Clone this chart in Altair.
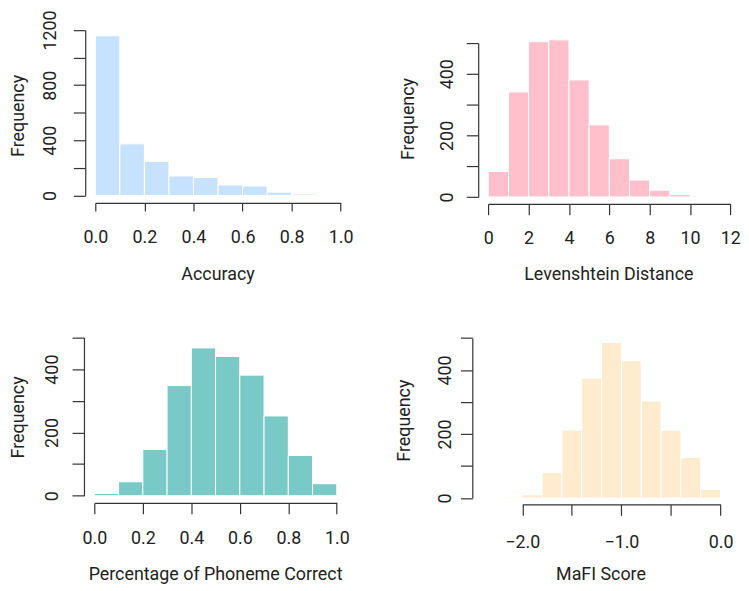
import altair as alt
import pandas as pd

# ---- data ----
acc_edges = [0.0, 0.1, 0.2, 0.3, 0.4, 0.5, 0.6, 0.7, 0.8, 0.9, 1.0]
acc_counts = [1158, 374, 247, 141, 130, 76, 68, 24, 10, 1]

lev_edges = [0, 1, 2, 3, 4, 5, 6, 7, 8, 9, 10, 11, 12]
lev_counts = [83, 341, 504, 510, 380, 234, 124, 55, 22, 8, 2, 1]

pho_edges = [0.0, 0.1, 0.2, 0.3, 0.4, 0.5, 0.6, 0.7, 0.8, 0.9, 1.0]
pho_counts = [7, 44, 146, 348, 467, 440, 381, 252, 127, 38]

mafi_edges = [-2.4, -2.2, -2.0, -1.8, -1.6, -1.4, -1.2, -1.0, -0.8, -0.6, -0.4, -0.2, 0.0]
mafi_counts = [1, 3, 10, 79, 212, 374, 486, 429, 303, 212, 127, 27]

acc_xticks = [0.0, 0.2, 0.4, 0.6, 0.8, 1.0]
lev_xticks = [0, 2, 4, 6, 8, 10, 12]
pho_xticks = [0.0, 0.2, 0.4, 0.6, 0.8, 1.0]
mafi_xticks = [-2.0, -1.5, -1.0, -0.5, 0.0]
acc_yticks = [0, 200, 400, 600, 800, 1000, 1200]
other_yticks = [0, 100, 200, 300, 400, 500]

# ---- layout helpers (pixel placement of each panel inside one view) ----
W, H = 739, 576
TEXT = "#222222"
LINE = "#333333"


def fx(x):
    return 0.5 + (x - 1.7) * 0.988


def fy(y):
    return 0.5 + (y - 1.0) * 0.981


def frame(edges, counts):
    return pd.DataFrame({
        "start": edges[:-1],
        "end": edges[1:],
        "count": counts,
        "base": [0] * len(counts),
    })


def panel(df, color, xtitle, xdom, xpix, xvals, xfmt, xlabexpr, xtick, xlabpad,
          xaxis_y, xtitle_cx, xtitle_base,
          ydom, ypix, yvals, ylabexpr, ylabpad, yaxis_x, ytitle_base, ytitle_cy):
    return alt.Chart(df).mark_rect(color=color, stroke="white", strokeWidth=1).encode(
        x=alt.X("start:Q",
                scale=alt.Scale(domain=xdom, range=[fx(xpix[0]), fx(xpix[1])],
                                nice=False, zero=False),
                axis=alt.Axis(orient="bottom", offset=fy(xaxis_y) - H, values=xvals,
                              format=xfmt, labelExpr=xlabexpr, tickSize=xtick,
                              labelPadding=xlabpad, labelBaseline="alphabetic",
                              labelAlign="center", title=xtitle,
                              titleX=fx(xtitle_cx), titleY=fy(xtitle_base) - fy(xaxis_y),
                              titleAlign="center", titleBaseline="alphabetic")),
        x2="end:Q",
        y=alt.Y("count:Q",
                scale=alt.Scale(domain=ydom, range=[fy(ypix[0]), fy(ypix[1])],
                                nice=False, zero=False),
                axis=alt.Axis(orient="left", offset=-fx(yaxis_x), values=yvals, format="d",
                              labelExpr=ylabexpr, tickSize=12, labelPadding=ylabpad,
                              labelAngle=-90, labelAlign="center",
                              labelBaseline="alphabetic", title="Frequency",
                              titleX=fx(ytitle_base) - fx(yaxis_x), titleY=fy(ytitle_cy),
                              titleAngle=-90, titleAlign="center",
                              titleBaseline="alphabetic")),
        y2="base:Q",
    )


p1 = panel(frame(acc_edges, acc_counts), "#C6E2FF", "Accuracy",
           [0, 1], [90.3, 340.7], acc_xticks, ".1f", "datum.label", 8.3, 32.2,
           198.3, 215.0, 276.7,
           [0, 1200], [190.7, 20.7], acc_yticks,
           "datum.value % 400 === 0 ? datum.label : ''", 18, 80.0, 17.0, 108.5)

p2 = panel(frame(lev_edges, lev_counts), "#FFC0CB", "Levenshtein Distance",
           [0, 12], [491.3, 738.3], lev_xticks, "d", "datum.label", 11, 29.5,
           199.3, 613.8, 276.7,
           [0, 500], [192.3, 34.0], other_yticks,
           "datum.value % 200 === 0 ? datum.label : ''", 14, 481.0, 415.0, 111.7)

p3 = panel(frame(pho_edges, pho_counts), "#79C9C6", "Percentage of Phoneme Correct",
           [0, 1], [89.3, 336.7], pho_xticks, ".1f", "datum.label", 11, 29.5,
           506.7, 212.5, 585.0,
           [0, 500], [499.3, 336.7], other_yticks,
           "datum.value % 200 === 0 ? datum.label : ''", 15, 78.7, 17.0, 418.3)

p4 = panel(frame(mafi_edges, mafi_counts), "#FFEBCD", "MaFI Score",
           [-2, 0], [526.0, 728.3], mafi_xticks, ".1f",
           "datum.value % 1 === 0 ? datum.label : ''", 11, 32.3,
           508.3, 605.8, 585.0,
           [0, 500], [501.7, 337.3], other_yticks,
           "datum.value % 200 === 0 ? datum.label : ''", 9.7, 475.0, 411.0, 421.7)

chart = alt.layer(p1, p2, p3, p4).resolve_scale(
    x="independent", y="independent"
).properties(
    width=W, height=H, padding=0,
    autosize=alt.AutoSizeParams(type="none"),
).configure_view(stroke=None).configure_axis(
    grid=False, domainColor=LINE, tickColor=LINE, domainWidth=1.2, tickWidth=1.2,
    labelColor=TEXT, titleColor=TEXT, labelFont="Roboto", titleFont="Roboto",
    labelFontSize=18, titleFontSize=18, titleFontWeight="normal",
    labelOverlap=False, labelFlush=False,
)

chart.save("out.html", embed_options={"renderer": "svg", "actions": False})
